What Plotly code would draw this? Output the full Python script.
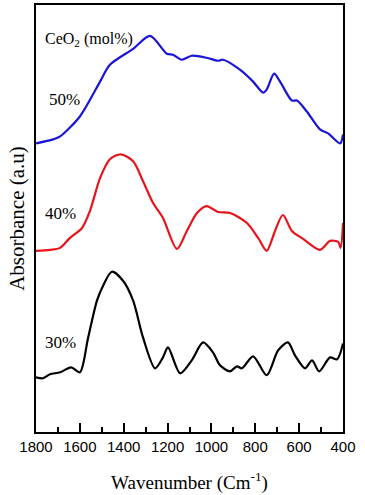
import plotly.graph_objects as go

# Wavenumber (cm-1) and absorbance (a.u., offset-stacked)
wn_50 = [1800, 1722, 1690, 1600, 1508, 1463, 1357, 1280, 1203, 1175, 1135, 1090, 1022, 970, 947, 870, 810, 764, 748, 714, 687, 633, 610, 565, 505, 468, 413, 400]
ab_50 = [290, 294, 297, 317, 352, 369, 385, 398, 380, 379, 374, 378, 376, 373, 374, 364, 352, 341, 344, 360, 352, 333, 333, 322, 304, 300, 290, 299]

wn_40 = [1800, 1736, 1690, 1645, 1590, 1554, 1508, 1463, 1413, 1357, 1312, 1266, 1221, 1157, 1112, 1066, 1022, 970, 915, 838, 787, 748, 710, 674, 633, 582, 505, 459, 422, 411, 400]
ab_40 = [182, 183, 185, 195, 205, 222, 255, 274, 279, 272, 252, 230, 215, 184, 202, 220, 227, 221, 220, 210, 195, 182, 202, 218, 202, 194, 183, 192, 191, 185, 210]

wn_30 = [1800, 1768, 1736, 1690, 1640, 1600, 1563, 1522, 1494, 1454, 1403, 1357, 1312, 1257, 1221, 1198, 1143, 1090, 1038, 993, 961, 915, 884, 861, 810, 748, 696, 651, 619, 573, 541, 509, 459, 427, 400]
ab_30 = [55, 54, 58, 60, 65, 60, 94, 132, 147, 161, 152, 132, 95, 64, 75, 85, 59, 72, 90, 80, 67, 61, 66, 64, 76, 57, 82, 90, 77, 64, 72, 61, 75, 73, 89]

series = [
    ("30%", wn_30, ab_30, "#000000"),
    ("40%", wn_40, ab_40, "#e8141c"),
    ("50%", wn_50, ab_50, "#1a14d6"),
]

x_ticks = [1800, 1600, 1400, 1200, 1000, 800, 600, 400]

fig = go.Figure()
for name, x, y, c in series:
    fig.add_trace(go.Scatter(x=x, y=y, mode="lines", name=name,
                             line=dict(color=c, width=2.2, shape="spline", smoothing=0.8),
                             showlegend=False))

serif = "Liberation Serif, Times New Roman, serif"
labels = [("CeO<sub>2</sub> (mol%)", 0.022, 394, 16), ("50%", 0.036, 334, 17), ("40%", 0.022, 220, 17), ("30%", 0.022, 90, 17)]
for txt, xp, yv, fs in labels:
    fig.add_annotation(text=txt, xref="paper", yref="y", x=xp, y=yv, xanchor="left",
                       yanchor="middle", showarrow=False,
                       font=dict(family=serif, size=fs, color="black"))

fig.update_layout(
    width=365, height=495,
    margin=dict(l=36, r=22, t=3, b=63),
    plot_bgcolor="white", paper_bgcolor="white",
    xaxis=dict(range=[1800, 400], autorange=False, tickvals=x_ticks,
               ticks="inside", ticklen=9, tickwidth=2, tickcolor="black",
               minor=dict(ticks="inside", dtick=100, tick0=0, ticklen=5, tickwidth=2, tickcolor="black"),
               showline=True, linecolor="black", linewidth=2, mirror=True,
               showgrid=False, zeroline=False,
               tickfont=dict(family="Liberation Sans, Arial, sans-serif", size=15, color="black"),
               title=dict(text="Wavenumber (Cm<sup>-1</sup>)",
                          font=dict(family=serif, size=19, color="black"), standoff=22)),
    yaxis=dict(range=[0, 429], autorange=False, showticklabels=False, ticks="",
               showline=True, linecolor="black", linewidth=2, mirror=True,
               showgrid=False, zeroline=False,
               title=dict(text="Absorbance (a.u)",
                          font=dict(family=serif, size=21, color="black"), standoff=4)),
)

fig.write_html("out.html")
